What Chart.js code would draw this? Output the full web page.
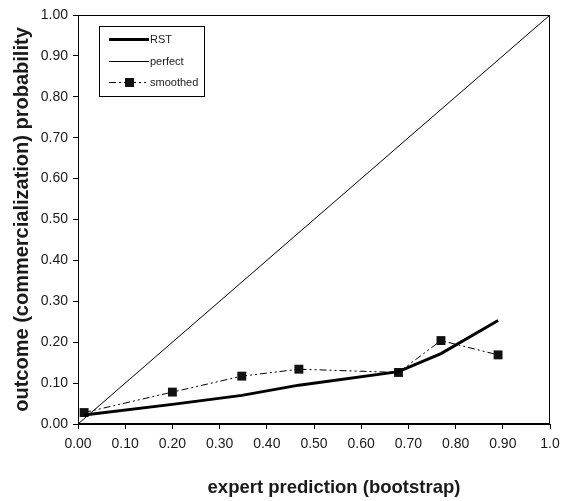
<!DOCTYPE html>
<html>
<head>
<meta charset="utf-8">
<script src="https://cdn.jsdelivr.net/npm/chart.js@4/dist/chart.umd.min.js"></script>
<style>
    html, body { margin: 0; padding: 0; background: #fff; }
</style>
</head>
<body>
<canvas id="myChart" width="567" height="501"></canvas>
<script>
// values
const predX = [0.013, 0.200, 0.347, 0.468, 0.679, 0.769, 0.890];
const rstY = [0.022, 0.048, 0.070, 0.095, 0.128, 0.172, 0.253];
const smoothedY = [0.028, 0.078, 0.117, 0.134, 0.126, 0.204, 0.169];
const perfectX = [0, 1];
const perfectY = [0, 1];

const xTickLabels = ['0.00', '0.10', '0.20', '0.30', '0.40', '0.50', '0.60', '0.70', '0.80', '0.90', '1.0'];
const yTickLabels = ['0.00', '0.10', '0.20', '0.30', '0.40', '0.50', '0.60', '0.70', '0.80', '0.90', '1.00'];

const seriesNames = ['RST', 'perfect', 'smoothed'];
const xTitle = 'expert prediction (bootstrap)';
const yTitle = 'outcome (commercialization) probability';

const fontFamily = '"Liberation Sans", Arial, Helvetica, sans-serif';
const textColor = '#1a1a1a';

function toPoints(xs, ys) {
    return xs.map((x, i) => ({ x: x, y: ys[i] }));
}

// box round the plot, legend inside it, x title
const extrasPlugin = {
    id: 'extras',
    afterDraw(chart) {
        const ctx = chart.ctx;
        const a = chart.chartArea;
        ctx.save();

        ctx.strokeStyle = '#000';
        ctx.lineWidth = 1;
        ctx.strokeRect(Math.round(a.left) + 0.5, Math.round(a.top) + 0.5,
            Math.round(a.right - a.left) - 1, Math.round(a.bottom - a.top) - 1);

        // legend
        const bx = 99, by = 26, bw = 105, bh = 70;
        ctx.fillStyle = '#fff';
        ctx.fillRect(bx, by, bw, bh);
        ctx.strokeStyle = '#000';
        ctx.lineWidth = 1;
        ctx.strokeRect(bx + 0.5, by + 0.5, bw, bh);

        const rowsY = [39, 61, 82];
        ctx.font = '11px ' + fontFamily;
        ctx.textBaseline = 'middle';
        chart.data.datasets.forEach((ds, i) => {
            const y = rowsY[i] + 0.5;
            ctx.strokeStyle = ds.borderColor;
            ctx.lineWidth = ds.borderWidth;
            ctx.setLineDash(ds.borderDash || []);
            ctx.beginPath();
            ctx.moveTo(109, y);
            ctx.lineTo(149, y);
            ctx.stroke();
            ctx.setLineDash([]);
            if (ds.pointRadius > 0) {
                ctx.fillStyle = ds.pointBackgroundColor;
                ctx.fillRect(125, y - 4.5, 9, 9);
            }
            ctx.fillStyle = textColor;
            ctx.textAlign = 'left';
            ctx.fillText(ds.label, 150, y);
        });

        // x axis title
        ctx.font = 'bold 18.5px ' + fontFamily;
        ctx.fillStyle = textColor;
        ctx.textAlign = 'center';
        ctx.textBaseline = 'middle';
        ctx.fillText(xTitle, 334, 488);

        ctx.restore();
    }
};

const data = {
    datasets: [
        {
            label: seriesNames[0],
            data: toPoints(predX, rstY),
            borderColor: '#000',
            borderWidth: 3,
            pointRadius: 0,
            tension: 0,
        },
        {
            label: seriesNames[1],
            data: toPoints(perfectX, perfectY),
            borderColor: '#000',
            borderWidth: 1,
            pointRadius: 0,
            tension: 0,
        },
        {
            label: seriesNames[2],
            data: toPoints(predX, smoothedY),
            borderColor: '#000',
            borderWidth: 1,
            borderDash: [7, 3, 2, 3, 2, 3],
            pointStyle: 'rect',
            pointRadius: 6.3,
            pointBackgroundColor: '#111',
            pointBorderColor: '#111',
            pointBorderWidth: 0,
            tension: 0,
        },
    ],
};

const config = {
    type: 'line',
    data: data,
    options: {
        responsive: false,
        animation: false,
        devicePixelRatio: 1,
        layout: {
            padding: { top: 15, right: 17, left: 0, bottom: 0 }
        },
        plugins: {
            legend: { display: false },
            title: { display: false },
            tooltip: { enabled: false }
        },
        scales: {
            x: {
                type: 'linear',
                min: 0,
                max: 1,
                afterFit: (scale) => { scale.height = 77; },
                border: { display: true, color: '#000', width: 1 },
                grid: {
                    drawOnChartArea: false,
                    drawTicks: true,
                    tickLength: 5,
                    tickColor: '#000'
                },
                ticks: {
                    stepSize: 0.1,
                    padding: 7,
                    maxRotation: 0,
                    color: textColor,
                    font: { family: fontFamily, size: 14 },
                    callback: (value) => xTickLabels[Math.round(value * 10)]
                }
            },
            y: {
                type: 'linear',
                min: 0,
                max: 1,
                afterFit: (scale) => { scale.width = 78; },
                border: { display: true, color: '#000', width: 1 },
                grid: {
                    drawOnChartArea: false,
                    drawTicks: true,
                    tickLength: 5,
                    tickColor: '#000'
                },
                ticks: {
                    stepSize: 0.1,
                    padding: 5,
                    color: textColor,
                    font: { family: fontFamily, size: 14 },
                    callback: (value) => yTickLabels[Math.round(value * 10)]
                },
                title: {
                    display: true,
                    text: yTitle,
                    color: textColor,
                    font: { family: fontFamily, size: 20, weight: 'bold' },
                    padding: { top: 10, bottom: 0 }
                }
            }
        }
    },
    plugins: [extrasPlugin]
};

const ctx = document.getElementById('myChart').getContext('2d');
new Chart(ctx, config);
</script>
</body>
</html>
